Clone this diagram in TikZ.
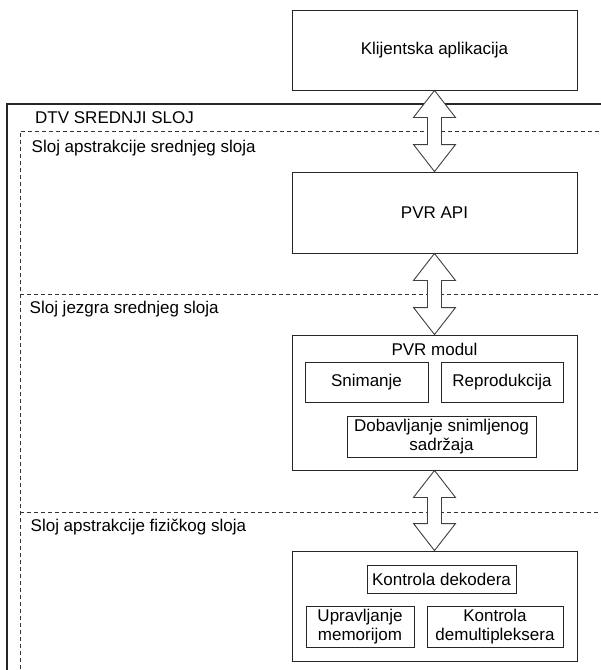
\documentclass[tikz,border=0pt]{standalone}
\usepackage{fontspec}
\setmainfont{Liberation Sans}
\usetikzlibrary{calc}
\tikzset{
  box/.style={draw=black!85, line width=0.9pt, fill=white, inner sep=2pt, align=center, font=\fontsize{17}{19.5}\selectfont},
  lbl/.style={inner sep=0pt, anchor=base west, font=\fontsize{17}{19.5}\selectfont},
  layer/.style={draw=black!80, line width=0.9pt, dash pattern=on 4pt off 3pt},
  outer/.style={draw=black!85, line width=1.3pt},
  blockarrow/.style={draw=black!75, line width=0.9pt, fill=white, line join=miter},
}
\newcommand{\dblarrow}[2]{%
  \draw[blockarrow] (#1.south) -- ($(#1.south)+(21,27)$) -- ($(#1.south)+(7,27)$)
    -- ($(#2.north)+(7,-27)$) -- ($(#2.north)+(21,-27)$) -- (#2.north)
    -- ($(#2.north)+(-21,-27)$) -- ($(#2.north)+(-7,-27)$)
    -- ($(#1.south)+(-7,27)$) -- ($(#1.south)+(-21,27)$) -- cycle;}
\begin{document}
\begin{tikzpicture}[x=1pt,y=-1pt]
\useasboundingbox (0,0) rectangle (601,670);
\clip (0,0) rectangle (601,670);
\fill[white] (0,0) rectangle (601,670);
% outer container
\draw[outer] (7,690) -- (7,104) -- (620,104);
% layers
\draw[layer] (20,690) -- (20,131) -- (620,131);
\draw[layer] (20,294) -- (620,294);
\draw[layer] (20,512) -- (620,512);
% layer labels
\node[lbl] (dtv) at (35,123.5) {DTV SREDNJI SLOJ};
\node[lbl] (l1) at (31.5,152.5) {Sloj apstrakcije srednjeg sloja};
\node[lbl] (l2) at (29.5,313) {Sloj jezgra srednjeg sloja};
\node[lbl] (l3) at (30.5,531) {Sloj apstrakcije fizičkog sloja};
% boxes
\node[box, minimum width=285pt, minimum height=80pt] (klij) at (434.5,50) {Klijentska aplikacija};
\node[box, minimum width=285pt, minimum height=81pt] (api) at (434.5,212.5) {PVR API};
\node[box, minimum width=285pt, minimum height=135pt] (pvrmod) at (434.5,402.5) {};
\node[lbl, anchor=base] (pvrlbl) at (434.5,355) {PVR modul};
\node[box, minimum width=123pt, minimum height=40pt] (snim) at (366.5,382) {Snimanje};
\node[box, minimum width=122pt, minimum height=40pt] (repro) at (502,382) {Reprodukcija};
\node[box, minimum width=189pt, minimum height=41pt, inner sep=1pt] (dobav) at (441.5,436.5) {Dobavljanje snimljenog\\sadržaja};
\node[box, minimum width=285pt, minimum height=110pt] (hw) at (434.5,606) {};
\node[box, minimum width=149pt, minimum height=28pt] (dekod) at (441.5,579) {Kontrola dekodera};
\node[box, minimum width=108pt, minimum height=41pt, inner sep=1pt] (mem) at (360,626.5) {Upravljanje\\memorijom};
\node[box, minimum width=136pt, minimum height=41pt, inner sep=1pt] (demux) at (495,626.5) {Kontrola\\demultipleksera};
% arrows
\dblarrow{klij}{api}
\dblarrow{api}{pvrmod}
\dblarrow{pvrmod}{hw}
\end{tikzpicture}
\end{document}
